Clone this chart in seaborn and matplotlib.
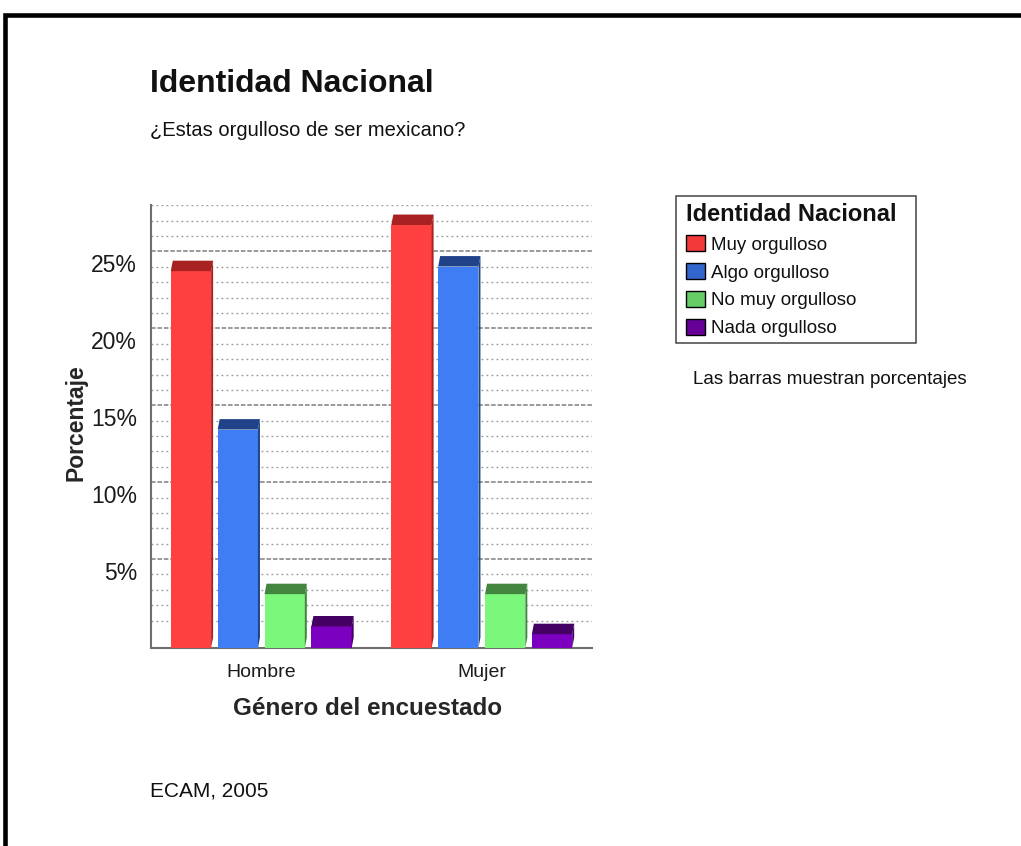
import numpy as np
import pandas as pd
import matplotlib
matplotlib.use("Agg")
import matplotlib.pyplot as plt
from matplotlib.patches import Polygon, Patch, Rectangle
from matplotlib.lines import Line2D
from matplotlib.colors import to_hex
import seaborn as sns

# --- data -------------------------------------------------------------
generos = ["Hombre", "Mujer"]
niveles = ["Muy orgulloso", "Algo orgulloso", "No muy orgulloso", "Nada orgulloso"]
pct_hombre = [24.5, 14.2, 3.5, 1.4]
pct_mujer = [27.5, 24.8, 3.5, 0.9]
y_ticks = [5, 10, 15, 20, 25]
y_tick_labels = ["5%", "10%", "15%", "20%", "25%"]

# --- colours ----------------------------------------------------------
colores_frente = ["#FF4040", "#3F7DF5", "#7BF77B", "#7C00BF"]
colores_techo = ["#A82222", "#1F4289", "#42853F", "#440062"]
colores_leyenda = ["#F23A3A", "#3366CC", "#66CC66", "#660099"]

W, H = 1021, 846


def fx(px):
    return px / W


def fy(py):
    return 1 - py / H


sns.set_theme(style="white")
plt.rcParams["font.family"] = ["Liberation Sans", "DejaVu Sans"]
plt.rcParams["text.color"] = "#111111"

fig = plt.figure(figsize=(W / 100, H / 100), dpi=100)
fig.patch.set_facecolor("white")
ax = fig.add_axes([fx(151), fy(648), fx(592) - fx(151), fy(205) - fy(648)])

df = pd.DataFrame({
    "Género": np.repeat(generos, len(niveles)),
    "Identidad": niveles * len(generos),
    "Porcentaje": pct_hombre + pct_mujer,
})

sns.barplot(data=df, x="Género", y="Porcentaje", hue="Identidad",
            order=generos, hue_order=niveles, palette=colores_frente,
            saturation=1, width=0.85, gap=0.14, errorbar=None,
            legend=False, linewidth=0, ax=ax)

ax.set_xlim(-0.5, 1.5)
ax.set_ylim(0, 28.8)

# pseudo-3D depth of each bar (value units / category units)
dz = 0.68
dx = 0.009
frente_hex = [c.upper() for c in colores_frente]
for bar in list(ax.patches):
    bar.set_zorder(3)
    x0 = bar.get_x()
    x1 = x0 + bar.get_width()
    h = bar.get_height()
    idx = frente_hex.index(to_hex(bar.get_facecolor()).upper())
    techo = colores_techo[idx]
    ax.add_patch(Polygon([(x0, h), (x1, h), (x1 + dx, h + dz), (x0 + dx, h + dz)],
                         closed=True, facecolor=techo, edgecolor="none", zorder=3.5))
    ax.add_patch(Polygon([(x1, 0), (x1 + dx, dz), (x1 + dx, h + dz), (x1, h)],
                         closed=True, facecolor=techo, edgecolor="none", zorder=3.5))

# back-wall grid, raised by the same depth offset
off = 0.78
for v in range(1, 29):
    if v % 5 == 0:
        ax.axhline(v + off, color="#7e7e7e", lw=1.1, ls=(0, (3.0, 1.2)), zorder=1)
    else:
        ax.axhline(v + off, color="#999999", lw=1.0, ls=(0, (1.3, 2.3)), zorder=1)

ax.set_yticks(y_ticks)
ax.set_yticklabels(y_tick_labels)
ax.tick_params(axis="both", direction="out", length=5.8, width=2.2,
               color="black", labelcolor="#1a1a1a")
ax.tick_params(axis="y", labelsize=16.5, pad=4.3)
ax.tick_params(axis="x", labelsize=14, pad=6)

for s in ["top", "right"]:
    ax.spines[s].set_visible(False)
for s in ["left", "bottom"]:
    ax.spines[s].set_color("#6e6e6e")
    ax.spines[s].set_linewidth(1.5)
ax.set_facecolor("white")

ax.set_xlabel("Género del encuestado", fontsize=17.5, fontweight="bold", va="baseline")
ax.xaxis.set_label_coords((368 - 151) / 441, (648 - 715) / 443)
ax.set_ylabel("Porcentaje", fontsize=16.5, fontweight="bold")
ax.yaxis.set_label_coords((87 - 151) / 441, (648 - 423) / 443)

# titles and notes
fig.text(fx(150), fy(92), "Identidad Nacional", fontsize=23, fontweight="bold",
         va="baseline", ha="left")
fig.text(fx(150), fy(136), "¿Estas orgulloso de ser mexicano?", fontsize=14.5,
         va="baseline", ha="left")
fig.text(fx(692.7), fy(384.3), "Las barras muestran porcentajes", fontsize=13.5,
         va="baseline", ha="left")
fig.text(fx(150), fy(796.7), "ECAM, 2005", fontsize=15, va="baseline", ha="left")

# legend
handles = [Patch(facecolor=c, edgecolor="black", linewidth=1.0) for c in colores_leyenda]
leg = fig.legend(handles, niveles, loc="upper left",
                 bbox_to_anchor=(fx(686), fy(203)), bbox_transform=fig.transFigure,
                 frameon=False, title="Identidad Nacional",
                 title_fontproperties={"weight": "bold", "size": 17},
                 fontsize=13.5, alignment="left", borderpad=0, borderaxespad=0,
                 handlelength=1.0, handleheight=0.96, handletextpad=0.32,
                 labelspacing=0.49)
fig.add_artist(Rectangle((fx(676), fy(343)), fx(916) - fx(676), fy(196) - fy(343),
                         transform=fig.transFigure, fill=False,
                         edgecolor="#444444", linewidth=1.1))

# page frame (top and left edges)
fig.add_artist(Line2D([fx(5), fx(5), 1.0], [0.0, fy(15), fy(15)],
                      transform=fig.transFigure, color="black", linewidth=3.3,
                      solid_joinstyle="miter"))

fig.savefig("out.png", dpi=100, facecolor="white")
